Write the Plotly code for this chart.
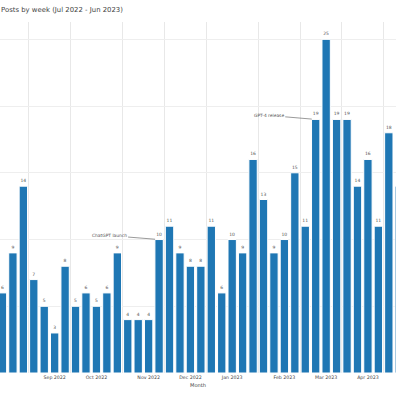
import pandas as pd
import plotly.graph_objects as go

# ---- data (weekly post counts, week starting Monday) ----
weeks = [
    "2022-08-15", "2022-08-22", "2022-08-29", "2022-09-05", "2022-09-12",
    "2022-09-19", "2022-09-26", "2022-10-03", "2022-10-10", "2022-10-17",
    "2022-10-24", "2022-10-31", "2022-11-07", "2022-11-14", "2022-11-21",
    "2022-11-28", "2022-12-05", "2022-12-12", "2022-12-19", "2022-12-26",
    "2023-01-02", "2023-01-09", "2023-01-16", "2023-01-23", "2023-01-30",
    "2023-02-06", "2023-02-13", "2023-02-20", "2023-02-27", "2023-03-06",
    "2023-03-13", "2023-03-20", "2023-03-27", "2023-04-03", "2023-04-10",
    "2023-04-17", "2023-04-24", "2023-05-01", "2023-05-08",
]
posts = [
    6, 9, 14, 7, 5,
    3, 8, 5, 6, 5,
    6, 9, 4, 4, 4,
    10, 11, 9, 8, 8,
    11, 6, 10, 9, 16,
    13, 9, 10, 15, 11,
    19, 25, 19, 19, 14,
    16, 11, 18, 14,
]
month_labels = [
    "Aug 2022", "Sep 2022", "Oct 2022", "Nov 2022", "Dec 2022",
    "Jan 2023", "Feb 2023", "Mar 2023", "Apr 2023", "May 2023",
]
events = ["ChatGPT launch", "GPT-4 release"]
event_weeks = ["2022-11-28", "2023-03-13"]
title_text = "Posts by week (Jul 2022 - Jun 2023)"

# ---- derived tick / grid positions (month boundaries by week start) ----
month_starts = [pd.to_datetime(m, format="%b %Y") for m in month_labels]
first_mondays = [m + pd.Timedelta(days=(7 - m.weekday()) % 7) for m in month_starts]
grid_vals = [(d - pd.Timedelta(hours=84)).strftime("%Y-%m-%d %H:%M") for d in first_mondays]
label_vals = [(d + pd.Timedelta(days=14)).strftime("%Y-%m-%d") for d in first_mondays]

FONT = "DejaVu Sans"
BLUE = "#1f77b4"

fig = go.Figure(
    go.Bar(
        x=weeks,
        y=posts,
        text=posts,
        textposition="outside",
        textfont=dict(size=4.5, color="#555", family=FONT),
        constraintext="none",
        cliponaxis=True,
        marker=dict(color=BLUE, line=dict(color="#ffffff", width=1)),
        hoverinfo="x+y",
    )
)

for name, wk in zip(events, event_weeks):
    i = weeks.index(wk)
    fig.add_annotation(
        x=wk, y=posts[i], text=name,
        showarrow=True, arrowhead=0, arrowwidth=0.6, arrowcolor="#555",
        ax=-50 if i < 20 else -47, ay=-4,
        standoff=4,
        font=dict(size=4.4, color="#555", family=FONT),
    )

fig.update_layout(
    width=396, height=396,
    template="plotly_white",
    margin=dict(l=0, r=0, t=22, b=23),
    bargap=0.2,
    showlegend=False,
    font=dict(family=FONT, color="#444"),
    title=dict(
        text=title_text,
        font=dict(size=6.9, color="#444", family=FONT),
        xref="container", x=1 / 396, xanchor="left",
        yref="container", y=1 - 9.5 / 396, yanchor="middle",
    ),
    plot_bgcolor="white",
    paper_bgcolor="white",
)
fig.update_xaxes(
    type="date",
    range=["2022-08-13 08:24", "2023-05-05 19:40"],
    tickmode="array",
    tickvals=label_vals,
    ticktext=month_labels,
    ticks="",
    showgrid=False,
    tickfont=dict(size=4.7, color="#444", family=FONT),
    minor=dict(tickmode="array", tickvals=grid_vals, showgrid=True,
               gridcolor="#e8e8e8", gridwidth=1, ticks=""),
    title=dict(text="Month", font=dict(size=5.1, color="#444", family=FONT), standoff=4),
    automargin=False,
    zeroline=False,
    showline=False,
)
fig.update_yaxes(
    range=[0, 26.3],
    dtick=5,
    showgrid=True,
    gridcolor="#eeeeee",
    showticklabels=False,
    zeroline=False,
    automargin=False,
)

fig.write_html(
    "out.html",
    config={"displayModeBar": False},
    post_script="document.body.style.margin='0';document.body.style.padding='0';",
)
